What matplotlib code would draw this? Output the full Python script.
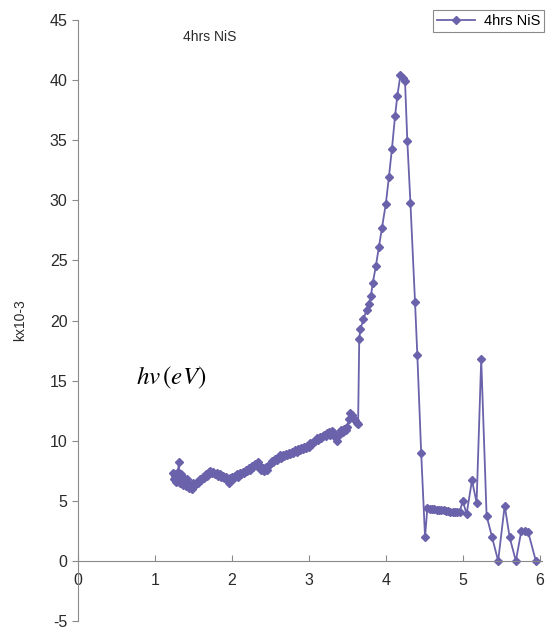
import numpy as np
import matplotlib.pyplot as plt

# data: photon energy (eV) vs k x10^-3
energy = [1.24, 1.25, 1.26, 1.27, 1.28, 1.29, 1.30, 1.31, 1.32, 1.33, 1.34, 1.35, 1.36, 1.37, 1.38,
          1.40, 1.42, 1.44, 1.46, 1.48, 1.50, 1.52, 1.54, 1.56, 1.58, 1.60, 1.62, 1.64, 1.66, 1.68,
          1.70, 1.72, 1.74, 1.76, 1.78, 1.80, 1.82, 1.84, 1.86, 1.88, 1.90, 1.92, 1.94, 1.96, 1.98,
          2.00, 2.02, 2.04, 2.06, 2.08, 2.10, 2.12, 2.14, 2.16, 2.18, 2.20, 2.22, 2.24, 2.26, 2.28,
          2.30, 2.32, 2.34, 2.36, 2.38, 2.40, 2.42, 2.44, 2.46, 2.48, 2.50, 2.52, 2.54, 2.56, 2.58,
          2.60, 2.62, 2.64, 2.66, 2.68, 2.70, 2.72, 2.74, 2.76, 2.78, 2.80, 2.82, 2.84, 2.86, 2.88,
          2.90, 2.92, 2.94, 2.96, 2.98, 3.00, 3.02, 3.04, 3.06, 3.08, 3.10, 3.12, 3.14, 3.16, 3.18,
          3.20, 3.22, 3.24, 3.26, 3.28, 3.30, 3.32, 3.34, 3.36, 3.38, 3.40, 3.42, 3.44, 3.46, 3.48,
          3.50, 3.52, 3.54, 3.56, 3.58, 3.60, 3.62, 3.64,
          3.655, 3.67, 3.71, 3.75, 3.78, 3.805, 3.83, 3.87, 3.91, 3.95, 4.00, 4.04, 4.08, 4.12,
          4.15, 4.19, 4.22, 4.25, 4.28, 4.32, 4.38, 4.41, 4.46, 4.51, 4.54,
          4.57, 4.60, 4.63, 4.66, 4.69, 4.72, 4.75, 4.78, 4.81, 4.84, 4.87, 4.90, 4.93, 4.96,
          5.00, 5.05, 5.12, 5.18, 5.24, 5.31, 5.38, 5.46, 5.545, 5.61, 5.69, 5.76, 5.81, 5.85, 5.95]
kval = [7.3, 6.8, 7.1, 6.6, 7.2, 6.9, 7.4, 8.25, 7.0, 6.5, 7.2, 6.8, 6.3, 7.0, 6.6,
        6.2, 6.8, 6.1, 6.4, 6.0, 6.5, 6.3, 6.6, 6.5, 6.8, 6.7, 7.0, 6.9, 7.2, 7.1,
        7.4, 7.5, 7.3, 7.4, 7.2, 7.3, 7.1, 7.2, 7.0, 7.1, 6.9, 7.0, 6.8, 6.5, 6.9,
        7.0, 6.8, 7.1, 7.2, 7.0, 7.3, 7.2, 7.4, 7.3, 7.6, 7.5, 7.7, 7.6, 7.9, 7.8,
        8.1, 7.9, 8.2, 7.9, 7.6, 7.7, 7.5, 7.8, 7.6, 8.0, 8.1, 8.3, 8.2, 8.5, 8.4,
        8.6, 8.8, 8.6, 8.8, 8.7, 8.9, 8.8, 9.0, 8.9, 9.1, 9.0, 9.2, 9.1, 9.3, 9.2,
        9.4, 9.3, 9.5, 9.4, 9.6, 9.5, 9.8, 9.7, 9.9, 10.0, 10.2, 10.1, 10.3, 10.2, 10.4,
        10.5, 10.4, 10.6, 10.7, 10.5, 10.8, 10.7, 10.3, 10.0, 10.4, 10.6, 10.9, 10.7, 11.0, 10.9,
        11.1, 11.8, 12.3, 12.1, 11.9, 11.7, 11.5, 11.4,
        18.5, 19.3, 20.1, 20.9, 21.4, 22.0, 23.1, 24.5, 26.1, 27.7, 29.7, 31.9, 34.3, 37.0,
        38.7, 40.4, 40.2, 39.9, 34.9, 29.8, 21.5, 17.1, 8.95, 1.97, 4.4,
        4.35, 4.3, 4.3, 4.25, 4.25, 4.2, 4.2, 4.15, 4.15, 4.1, 4.1, 4.05, 4.05, 4.1,
        5.0, 3.9, 6.7, 4.85, 16.8, 3.75, 2.0, 0.0, 4.6, 1.95, 0.0, 2.45, 2.45, 2.4, 0.0]

xticks = [0, 1, 2, 3, 4, 5, 6]
yticks = [-5, 0, 5, 10, 15, 20, 25, 30, 35, 40, 45]

plt.rcParams['font.family'] = ['Liberation Sans', 'DejaVu Sans']
plt.rcParams['axes.unicode_minus'] = False
col = '#6a62aa'
grey = '#8a8a8a'
txt = '#2a2a2a'

fig = plt.figure(figsize=(5.52, 6.29), dpi=100)
ax = fig.add_axes([0.1413, 0.0127, 0.8406, 0.9555])

ax.plot(energy, kval, color=col, lw=1.3, marker='D', ms=4, mec=col, mfc=col,
        label='4hrs NiS')

ax.set_xlim(0, 6.03)
ax.set_ylim(-5, 45)
ax.set_xticks(xticks)
ax.set_yticks(yticks)

ax.spines['top'].set_visible(False)
ax.spines['right'].set_visible(False)
ax.spines['bottom'].set_position(('data', 0))
ax.spines['left'].set_color(grey)
ax.spines['bottom'].set_color(grey)
ax.tick_params(axis='y', colors=txt, labelsize=11.5, length=4, color=grey)
ax.tick_params(axis='x', colors=txt, labelsize=11.5, length=4, direction='in',
               color=grey, pad=9)

ax.set_ylabel('kx10-3', fontsize=10, color=txt, labelpad=16)
ax.text(1.71, 43.6, '4hrs NiS', fontsize=10, color=txt, ha='center', va='center')
ax.text(0.76, 15.2, r'$hv\,(eV)$', fontsize=18, ha='left', va='center',
        math_fontfamily='stix')

leg = fig.legend(loc='upper right', bbox_to_anchor=(0.998, 0.995), fontsize=10.5,
                 fancybox=False, framealpha=1, edgecolor=grey, handlelength=2.6,
                 borderpad=0.25, handletextpad=0.6)
leg.get_frame().set_linewidth(0.8)

fig.savefig('out.png', dpi=100)
